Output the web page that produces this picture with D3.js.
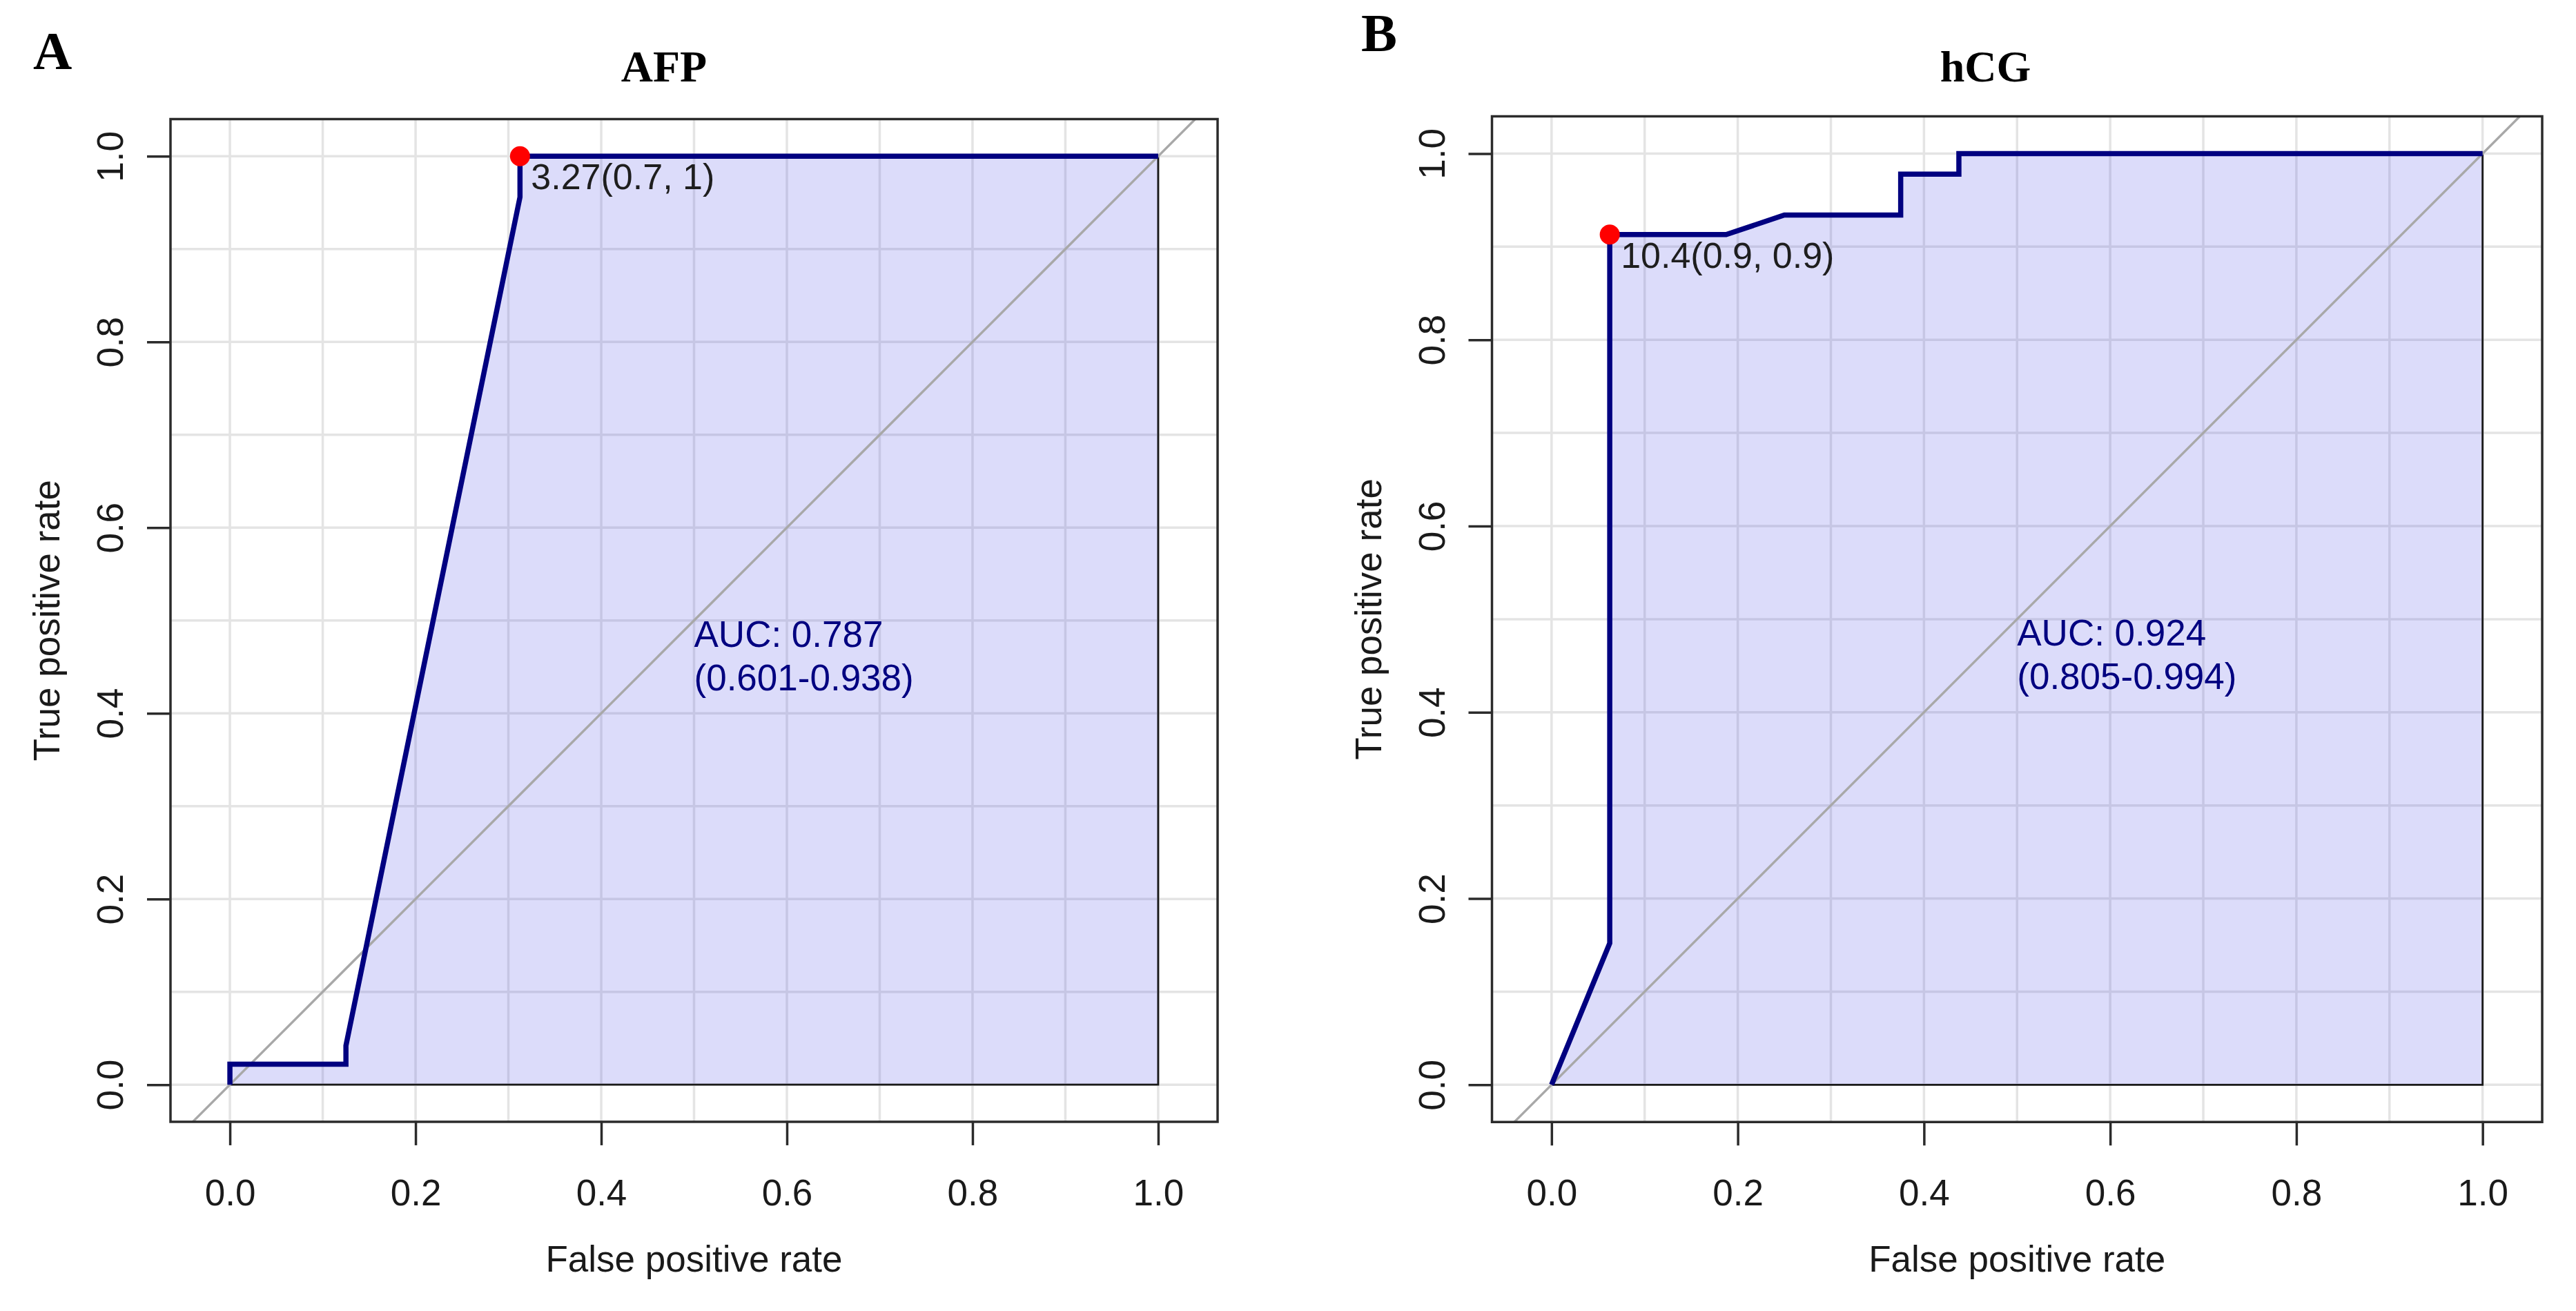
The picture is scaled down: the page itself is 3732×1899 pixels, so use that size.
<!DOCTYPE html>
<html>
<head>
<meta charset="utf-8">
<script src="https://cdn.jsdelivr.net/npm/d3@7"></script>
<style>
  html, body { margin: 0; padding: 0; background: #ffffff; }
  svg { display: block; font-family: "Liberation Sans", Arial, sans-serif; }
</style>
</head>
<body>
<svg id="chart" width="3732" height="1899"></svg>
<script>
// ---------- data ----------
const panelLetters = ["A", "B"];
const markerNames = ["AFP", "hCG"];

const afpFPR = [0, 0, 0.125, 0.125, 0.3125, 0.3125, 1];
const afpTPR = [0, 0.022, 0.022, 0.042, 0.956, 1, 1];

const hcgFPR = [0, 0.0625, 0.0625, 0.1875, 0.25, 0.375, 0.375, 0.4375, 0.4375, 1];
const hcgTPR = [0, 0.152, 0.913, 0.913, 0.934, 0.934, 0.978, 0.978, 1, 1];

const bestFPR = [0.3125, 0.0625];
const bestTPR = [1, 0.913];
const bestLabels = ["3.27(0.7, 1)", "10.4(0.9, 0.9)"];

const aucLabels = ["AUC: 0.787", "AUC: 0.924"];
const ciLabels = ["(0.601-0.938)", "(0.805-0.994)"];

const tickValues = [0, 0.2, 0.4, 0.6, 0.8, 1.0];
const gridValues = [0, 0.1, 0.2, 0.3, 0.4, 0.5, 0.6, 0.7, 0.8, 0.9, 1.0];
const xTitle = "False positive rate";
const yTitle = "True positive rate";

// ---------- layout ----------
const panels = [
  { left: 247, right: 1764, top: 172.5, letterX: 48, letterY: 100, fpr: afpFPR, tpr: afpTPR },
  { left: 2161.5, right: 3683, top: 168.5, letterX: 1972, letterY: 74, fpr: hcgFPR, tpr: hcgTPR }
];
const xDomain = [-0.064, 1.064];
const yDomain = [-0.04, 1.04];
const SANS = "'Liberation Sans', Arial, sans-serif";
const SERIF = "'Liberation Serif', 'Times New Roman', serif";

const svg = d3.select("#chart");
svg.append("rect").attr("width", 3732).attr("height", 1899).attr("fill", "#ffffff");

panels.forEach((p, i) => {
  const unit = (p.right - p.left) / (xDomain[1] - xDomain[0]);
  const bottom = p.top + unit * (yDomain[1] - yDomain[0]);
  const x = d3.scaleLinear().domain(xDomain).range([p.left, p.right]);
  const y = d3.scaleLinear().domain(yDomain).range([bottom, p.top]);
  const g = svg.append("g");

  const clipId = "clip" + i;
  svg.append("defs").append("clipPath").attr("id", clipId)
    .append("rect").attr("x", p.left).attr("y", p.top)
    .attr("width", p.right - p.left).attr("height", bottom - p.top);

  // grid
  const grid = g.append("g").attr("stroke", "#e4e4e4").attr("stroke-width", 3.5);
  grid.selectAll("line.v").data(gridValues).join("line")
    .attr("x1", d => x(d)).attr("x2", d => x(d))
    .attr("y1", p.top).attr("y2", bottom);
  grid.selectAll("line.h").data(gridValues).join("line")
    .attr("y1", d => y(d)).attr("y2", d => y(d))
    .attr("x1", p.left).attr("x2", p.right);

  // AUC polygon
  const pts = p.fpr.map((f, k) => [f, p.tpr[k]]);
  const polyPts = pts.concat([[1, 0], [0, 0]]);
  g.append("path")
    .attr("d", d3.line().x(d => x(d[0])).y(d => y(d[1]))(polyPts) + "Z")
    .attr("fill", "rgb(80,80,230)").attr("fill-opacity", 0.2)
    .attr("stroke", "#1a1a1a").attr("stroke-width", 2.8);

  // diagonal
  g.append("line")
    .attr("clip-path", `url(#${clipId})`)
    .attr("x1", x(-0.1)).attr("y1", y(-0.1)).attr("x2", x(1.1)).attr("y2", y(1.1))
    .attr("stroke", "#a8a8a8").attr("stroke-width", 3.4);

  // box
  g.append("rect").attr("x", p.left).attr("y", p.top)
    .attr("width", p.right - p.left).attr("height", bottom - p.top)
    .attr("fill", "none").attr("stroke", "#2b2b2b").attr("stroke-width", 3.5);

  // ROC curve
  g.append("path")
    .attr("d", d3.line().x(d => x(d[0])).y(d => y(d[1]))(pts))
    .attr("fill", "none").attr("stroke", "#000080").attr("stroke-width", 7.5)
    .attr("stroke-linejoin", "miter");

  // best threshold
  g.append("circle").attr("cx", x(bestFPR[i])).attr("cy", y(bestTPR[i])).attr("r", 14.5)
    .attr("fill", "#ff0000");
  g.append("text").attr("x", x(bestFPR[i]) + 16).attr("y", y(bestTPR[i]) + 48)
    .style("font-family", SANS).attr("font-size", 52).attr("fill", "#1e1e1e").text(bestLabels[i]);

  // AUC text
  g.append("text").attr("x", x(0.5)).attr("y", y(0.5) + 38.5)
    .style("font-family", SANS).attr("font-size", 53).attr("fill", "#000080").text(aucLabels[i]);
  g.append("text").attr("x", x(0.5)).attr("y", y(0.5) + 101.5)
    .style("font-family", SANS).attr("font-size", 53).attr("fill", "#000080").text(ciLabels[i]);

  // axes
  const fmt = d3.format(".1f");
  const xa = g.append("g").attr("transform", `translate(0,${bottom})`)
    .call(d3.axisBottom(x).tickValues(tickValues).tickFormat(fmt).tickSize(34));
  xa.select(".domain").remove();
  xa.selectAll(".tick line").attr("stroke", "#2b2b2b").attr("stroke-width", 3.5);
  xa.selectAll(".tick text").attr("y", 121).attr("dy", null)
    .attr("font-size", 53).attr("fill", "#1a1a1a")
    .style("font-family", SANS);

  const ya = g.append("g").attr("transform", `translate(${p.left},0)`)
    .call(d3.axisLeft(y).tickValues(tickValues).tickFormat(fmt).tickSize(34));
  ya.select(".domain").remove();
  ya.selectAll(".tick line").attr("stroke", "#2b2b2b").attr("stroke-width", 3.5);
  ya.selectAll(".tick text").attr("x", null).attr("dy", null)
    .attr("text-anchor", "middle")
    .attr("transform", "translate(-69,0) rotate(-90)")
    .attr("font-size", 53).attr("fill", "#1a1a1a")
    .style("font-family", SANS);

  // axis titles
  g.append("text").attr("x", (p.left + p.right) / 2).attr("y", 1842)
    .attr("text-anchor", "middle").attr("font-size", 53).attr("fill", "#1a1a1a")
    .style("font-family", SANS)
    .text(xTitle);
  g.append("text")
    .attr("transform", `translate(${p.left - 161},${(p.top + bottom) / 2}) rotate(-90)`)
    .attr("text-anchor", "middle").attr("font-size", 53).attr("fill", "#1a1a1a")
    .style("font-family", SANS)
    .text(yTitle);

  // titles
  g.append("text").attr("x", p.left + 715).attr("y", 118)
    .attr("text-anchor", "middle")
    .style("font-family", SERIF)
    .attr("font-weight", "bold").attr("font-size", 64).attr("fill", "#000")
    .text(markerNames[i]);
  g.append("text").attr("x", p.letterX).attr("y", p.letterY)
    .style("font-family", SERIF)
    .attr("font-weight", "bold").attr("font-size", 78).attr("fill", "#000")
    .text(panelLetters[i]);
});
</script>
</body>
</html>
